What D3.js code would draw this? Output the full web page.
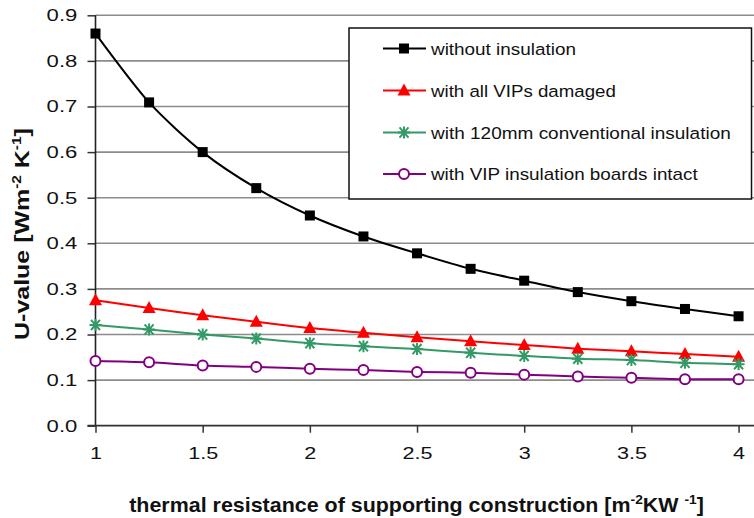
<!DOCTYPE html>
<html><head><meta charset="utf-8">
<script src="https://cdn.jsdelivr.net/npm/d3@7"></script>
<style>
body{margin:0;background:#fff;}
svg{display:block;font-family:"Liberation Sans",Arial,sans-serif;}
</style></head>
<body><svg id="c" width="754" height="518"></svg>
<script>
const xValues = [1, 1.25, 1.5, 1.75, 2, 2.25, 2.5, 2.75, 3, 3.25, 3.5, 3.75, 4];
const withoutInsulation = [0.86, 0.709, 0.60, 0.521, 0.461, 0.415, 0.378, 0.344, 0.318, 0.293, 0.273, 0.256, 0.240];
const allVIPsDamaged = [0.275, 0.258, 0.242, 0.228, 0.214, 0.204, 0.194, 0.185, 0.177, 0.169, 0.163, 0.157, 0.151];
const conventional120 = [0.221, 0.211, 0.200, 0.191, 0.181, 0.174, 0.168, 0.160, 0.153, 0.147, 0.144, 0.138, 0.135];
const vipIntact = [0.142, 0.139, 0.132, 0.129, 0.125, 0.122, 0.118, 0.116, 0.112, 0.108, 0.105, 0.102, 0.102];
const seriesNames = ["without insulation", "with all VIPs damaged", "with 120mm conventional insulation", "with VIP insulation boards intact"];
const xTicks = [1, 1.5, 2, 2.5, 3, 3.5, 4];
const xTickLabels = ["1", "1.5", "2", "2.5", "3", "3.5", "4"];
const yTicks = [0, 0.1, 0.2, 0.3, 0.4, 0.5, 0.6, 0.7, 0.8, 0.9];
const yTickLabels = ["0.0", "0.1", "0.2", "0.3", "0.4", "0.5", "0.6", "0.7", "0.8", "0.9"];

const series = [
  {name: seriesNames[0], values: withoutInsulation, color: "#000000", marker: "square"},
  {name: seriesNames[1], values: allVIPsDamaged, color: "#ff0000", marker: "triangle"},
  {name: seriesNames[2], values: conventional120, color: "#339966", marker: "star"},
  {name: seriesNames[3], values: vipIntact, color: "#800080", marker: "circle"}
];

const svg = d3.select("#c");
const x = d3.scaleLinear().domain([1, 4.072]).range([95.5, 754]);
const y = d3.scaleLinear().domain([0, 0.9]).range([425.7, 15.3]);
const x0 = x.range()[0], x1 = x.range()[1];

// stretch a text element along its own direction so it spans `target` px
function stretch(sel, target, ax, ay) {
  const w = sel.node().getComputedTextLength();
  const s = target / w;
  sel.attr("transform", `translate(${ax},${ay}) scale(${s},1) translate(${-ax},${-ay})`);
}

// gridlines
svg.append("g").selectAll("line").data(yTicks.filter(v => v > 0)).join("line")
  .attr("x1", x0).attr("x2", x1).attr("y1", d => y(d)).attr("y2", d => y(d))
  .attr("stroke", "#8c8c8c").attr("stroke-width", 1.6);

// y axis
const yAxis = d3.axisLeft(y).tickValues(yTicks).tickFormat((d, i) => yTickLabels[i]).tickSize(8).tickPadding(10);
const gy = svg.append("g").attr("transform", `translate(${x0},0)`).call(yAxis);
gy.select(".domain").remove();
gy.selectAll(".tick line").attr("stroke", "#333").attr("stroke-width", 1.5);
gy.selectAll(".tick text").attr("font-size", 17).attr("fill", "#111")
  .attr("font-family", "Liberation Sans, Arial, sans-serif").attr("x", -18.2)
  .attr("transform", "translate(-18.2,0) scale(1.3,1) translate(18.2,0)");
svg.append("line").attr("x1", x0).attr("x2", x0).attr("y1", y(0.9)).attr("y2", y(0) + 0.5)
  .attr("stroke", "#222").attr("stroke-width", 1.6);

// x axis
const xAxis = d3.axisBottom(x).tickValues(xTicks).tickFormat((d, i) => xTickLabels[i]).tickSize(7).tickPadding(14);
const gx = svg.append("g").attr("transform", `translate(0,${y(0)})`).call(xAxis);
gx.select(".domain").remove();
gx.selectAll(".tick line").attr("stroke", "#333").attr("stroke-width", 1.5);
gx.selectAll(".tick text").attr("font-size", 17).attr("fill", "#111")
  .attr("font-family", "Liberation Sans, Arial, sans-serif")
  .attr("transform", "scale(1.27,1)");
svg.append("line").attr("x1", x0 - 8).attr("x2", x1).attr("y1", y(0)).attr("y2", y(0))
  .attr("stroke", "#333").attr("stroke-width", 1.8);

// lines
const line = d3.line().x((d, i) => x(xValues[i])).y(d => y(d)).curve(d3.curveCardinal.tension(0.2));
const plot = svg.append("g");
series.forEach(s => {
  plot.append("path").attr("d", line(s.values)).attr("fill", "none")
    .attr("stroke", s.color).attr("stroke-width", 2);
});

function drawMarker(g, type, cx, cy, color) {
  if (type === "square") {
    g.append("rect").attr("x", cx - 5).attr("y", cy - 5).attr("width", 10).attr("height", 10).attr("fill", color);
  } else if (type === "triangle") {
    g.append("path").attr("d", `M${cx},${cy - 7}L${cx + 6.5},${cy + 5}L${cx - 6.5},${cy + 5}Z`).attr("fill", color);
  } else if (type === "star") {
    const r = 6;
    g.append("path").attr("d",
      `M${cx - r},${cy}L${cx + r},${cy}M${cx - r * 0.75},${cy - r * 0.85}L${cx + r * 0.75},${cy + r * 0.85}M${cx - r * 0.75},${cy + r * 0.85}L${cx + r * 0.75},${cy - r * 0.85}M${cx},${cy - r}L${cx},${cy + r}`)
      .attr("stroke", color).attr("stroke-width", 2).attr("fill", "none");
  } else if (type === "circle") {
    g.append("circle").attr("cx", cx).attr("cy", cy).attr("r", 5).attr("fill", "#fff")
      .attr("stroke", color).attr("stroke-width", 2);
  }
}
series.forEach(s => {
  const g = plot.append("g");
  s.values.forEach((v, i) => drawMarker(g, s.marker, x(xValues[i]), y(v), s.color));
});

// legend
const leg = svg.append("g");
leg.append("rect").attr("x", 349).attr("y", 28).attr("width", 402.5).attr("height", 171)
  .attr("fill", "#fff").attr("stroke", "#111").attr("stroke-width", 1.5);
const rowY = [48.5, 90.5, 132.5, 174];
const legendWidths = [145, 185, 300, 267];
series.forEach((s, i) => {
  const g = leg.append("g");
  g.append("line").attr("x1", 383).attr("x2", 426).attr("y1", rowY[i]).attr("y2", rowY[i])
    .attr("stroke", s.color).attr("stroke-width", 2);
  drawMarker(g, s.marker, 404, rowY[i], s.color);
  const t = g.append("text").attr("x", 431).attr("y", rowY[i]).attr("dy", "0.36em")
    .attr("font-size", 17).attr("fill", "#111").text(s.name);
  stretch(t, legendWidths[i], 431, rowY[i]);
});

// y title
const ytg = svg.append("g").attr("transform", "translate(29,234) rotate(-90)");
const yt = ytg.append("text").attr("x", 0).attr("y", 0)
  .attr("text-anchor", "middle").attr("font-size", 21).attr("font-weight", "bold").attr("fill", "#111");
yt.append("tspan").text("U-value [Wm");
yt.append("tspan").attr("font-size", 13).attr("dy", -8).text("-2");
yt.append("tspan").attr("dy", 8).text(" K");
yt.append("tspan").attr("font-size", 13).attr("dy", -8).text("-1");
yt.append("tspan").attr("dy", 8).text("]");
stretch(yt, 212, 0, 0);

// x title
const xt = svg.append("text").attr("x", 416.5).attr("y", 512.5)
  .attr("text-anchor", "middle").attr("font-size", 19.5).attr("font-weight", "bold").attr("fill", "#111");
xt.append("tspan").text("thermal resistance of supporting construction [m");
xt.append("tspan").attr("font-size", 12.5).attr("dy", -8).text("-2");
xt.append("tspan").attr("dy", 8).text("KW ");
xt.append("tspan").attr("font-size", 12.5).attr("dy", -8).text("-1");
xt.append("tspan").attr("dy", 8).text("]");
stretch(xt, 575, 416.5, 512.5);
</script></body></html>
